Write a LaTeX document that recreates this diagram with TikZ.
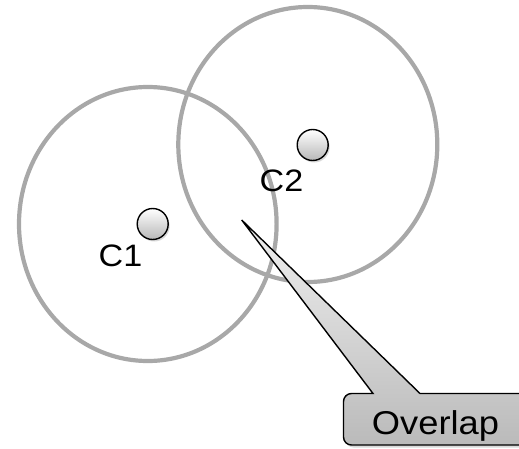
\documentclass[tikz,border=0pt]{standalone}
\usepackage{fontspec}
\setmainfont{Liberation Sans}
\usetikzlibrary{shadows}
\begin{document}
\begin{tikzpicture}[x=1pt,y=1pt,
  ring/.style={draw=black!34, line width=4.2pt},
  centre/.style={circle, draw=black, line width=1.4pt, minimum size=31pt, inner sep=0pt,
    top color=white, bottom color=black!28,
    drop shadow={opacity=0.3, shadow xshift=1.5pt, shadow yshift=-2pt}},
  lbl/.style={font=\fontsize{31}{31}\selectfont, anchor=base, inner sep=0pt, xscale=1.1},
  callout/.style={draw=black, line width=1.4pt, line join=miter,
    top color=black!6, bottom color=black!27,
    drop shadow={opacity=0.3, shadow xshift=2pt, shadow yshift=-2.5pt}}]
\useasboundingbox (0,0) rectangle (519,448);
\clip (0,0) rectangle (519,448);

% coverage areas of the two clusters
\draw[ring] (147.8,224) ellipse [x radius=128.8, y radius=137];
\draw[ring] (307.8,303.5) ellipse [x radius=129.5, y radius=137.5];

% cluster centres
\node[centre] (c1) at (152.7,224) {};
\node[centre] (c2) at (312.7,303) {};
\node[lbl] (l1) at (120.5,181.5) {C1};
\node[lbl] (l2) at (281.5,257) {C2};

% callout pointing into the shared region
\coordinate (tip) at (241.7,228);
\path[callout] (373,54.5) -- (tip) -- (420,54.5) -- (530,54.5) -- (530,3)
  -- (351.5,3) arc[start angle=270, end angle=180, radius=8]
  -- (343.5,46.5) arc[start angle=180, end angle=90, radius=8] -- cycle;
\node[lbl, font=\fontsize{33}{33}\selectfont] (ov) at (435.5,13.7) {Overlap};
\end{tikzpicture}
\end{document}
